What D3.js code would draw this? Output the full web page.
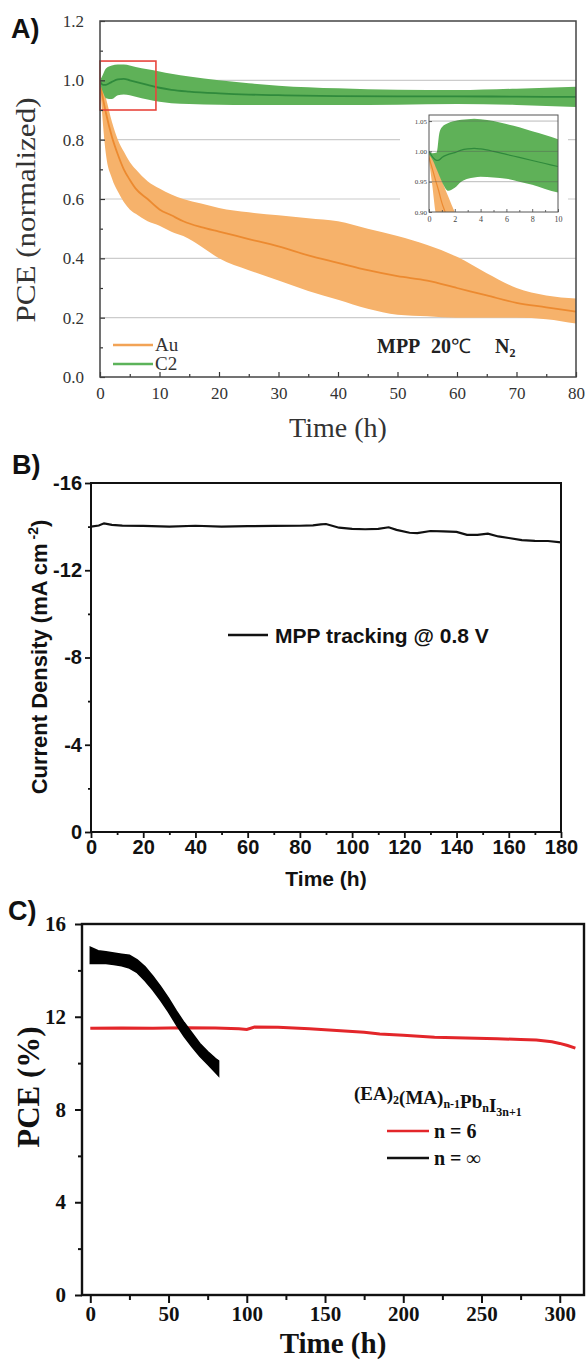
<!DOCTYPE html>
<html>
<head>
<meta charset="utf-8">
<script src="https://d3js.org/d3.v7.min.js"></script>
<style>
  body { margin: 0; background: #fff; }
</style>
</head>
<body>
<svg id="fig" width="587" height="1361"></svg>
<script>
(function() {
  'use strict';

  // ---- A) normalized PCE, Au vs C2 (mean with spread) ----
  const auTime = [0, 1, 2, 3, 4, 5, 6, 8, 10, 12, 14, 17, 20, 25, 30, 35, 40, 45, 50, 55, 60, 65, 70, 75, 80];
  const auMean = [0.99, 0.89, 0.81, 0.75, 0.70, 0.665, 0.635, 0.60, 0.565, 0.545, 0.525, 0.505, 0.49, 0.465, 0.44, 0.41, 0.385, 0.36, 0.34, 0.325, 0.30, 0.275, 0.25, 0.235, 0.22];
  const auUpper = [1.0, 0.94, 0.86, 0.80, 0.76, 0.725, 0.70, 0.66, 0.635, 0.615, 0.60, 0.585, 0.57, 0.555, 0.545, 0.535, 0.525, 0.50, 0.475, 0.445, 0.405, 0.35, 0.30, 0.275, 0.265];
  const auLower = [0.985, 0.75, 0.67, 0.625, 0.59, 0.565, 0.55, 0.525, 0.51, 0.49, 0.475, 0.44, 0.40, 0.36, 0.325, 0.29, 0.26, 0.23, 0.21, 0.205, 0.20, 0.20, 0.20, 0.195, 0.18];

  const c2Time = [0, 0.5, 1, 2, 3, 4, 5, 6, 8, 10, 12, 15, 20, 25, 30, 40, 50, 60, 70, 80];
  const c2Mean = [0.995, 0.985, 0.985, 0.995, 1.003, 1.005, 1.0, 0.995, 0.985, 0.975, 0.968, 0.962, 0.956, 0.952, 0.95, 0.947, 0.946, 0.946, 0.945, 0.944];
  const c2Upper = [1.0, 1.02, 1.04, 1.05, 1.053, 1.053, 1.05, 1.045, 1.037, 1.03, 1.022, 1.013, 1.0, 0.99, 0.982, 0.973, 0.968, 0.967, 0.972, 0.978];
  const c2Lower = [0.99, 0.96, 0.94, 0.937, 0.95, 0.952, 0.95, 0.945, 0.935, 0.928, 0.923, 0.92, 0.918, 0.917, 0.917, 0.917, 0.918, 0.92, 0.917, 0.91];

  // inset: first 10 h
  const insC2Time = [0, 0.3, 0.6, 0.8, 1, 1.5, 2, 2.5, 3, 3.5, 4, 5, 6, 7, 8, 9, 10];
  const insC2Mean = [1.0, 0.99, 0.985, 0.986, 0.99, 0.995, 0.998, 1.002, 1.004, 1.005, 1.004, 1.0, 0.995, 0.99, 0.985, 0.98, 0.975];
  const insC2Upper = [1.0, 0.997, 0.998, 1.03, 1.04, 1.047, 1.05, 1.052, 1.053, 1.054, 1.053, 1.05, 1.045, 1.04, 1.033, 1.027, 1.02];
  const insC2Lower = [0.995, 0.985, 0.97, 0.96, 0.95, 0.935, 0.94, 0.95, 0.955, 0.957, 0.958, 0.957, 0.955, 0.95, 0.945, 0.938, 0.932];
  const insAuTime = [0, 0.25, 0.5, 0.75, 1.0, 1.25, 1.5, 1.75, 2.0, 2.25];
  const insAuMean = [0.99, 0.972, 0.953, 0.935, 0.915, 0.9, 0.885, 0.87, 0.855, 0.84];
  const insAuUpper = [1.0, 0.99, 0.978, 0.965, 0.952, 0.938, 0.925, 0.912, 0.9, 0.887];
  const insAuLower = [0.985, 0.945, 0.9, 0.87, 0.85, 0.83, 0.81, 0.79, 0.77, 0.75];

  const aXTicks = [0, 10, 20, 30, 40, 50, 60, 70, 80];
  const aXMinor = [5, 15, 25, 35, 45, 55, 65, 75];
  const aYTicks = [0, 0.2, 0.4, 0.6, 0.8, 1.0, 1.2];
  const aYMinor = [0.1, 0.3, 0.5, 0.7, 0.9, 1.1];
  const aGrid = [0.2, 0.4, 0.6, 0.8, 1.0];
  const zoomBox = {t0: 0, t1: 9.4, v0: 0.9, v1: 1.065};
  const insXTicks = [0, 2, 4, 6, 8, 10];
  const insXMinor = [1, 3, 5, 7, 9];
  const insYTicks = [0.90, 0.95, 1.00, 1.05];

  // ---- B) current density at MPP ----
  const bTime = [0, 3, 5, 8, 12, 20, 30, 40, 50, 60, 70, 80, 85, 88, 90, 92, 95, 100, 105, 110, 114, 117, 122, 125, 130, 135, 140, 144, 148, 152, 156, 160, 165, 170, 175, 180];
  const bCurrent = [-14.0, -14.05, -14.15, -14.08, -14.05, -14.03, -14.0, -14.04, -14.0, -14.02, -14.03, -14.04, -14.06, -14.1, -14.12, -14.05, -13.95, -13.9, -13.88, -13.9, -13.97, -13.85, -13.72, -13.7, -13.8, -13.78, -13.76, -13.62, -13.62, -13.68, -13.55, -13.48, -13.38, -13.35, -13.34, -13.28];
  const bXTicks = [0, 20, 40, 60, 80, 100, 120, 140, 160, 180];
  const bXMinor = [10, 30, 50, 70, 90, 110, 130, 150, 170];
  const bYTicks = [0, -4, -8, -12, -16];
  const bYMinor = [-2, -6, -10, -14];

  // ---- C) PCE of n = 6 and n = infinity ----
  const redTime = [0, 20, 40, 60, 80, 95, 100, 105, 120, 140, 160, 175, 185, 200, 220, 240, 260, 275, 285, 295, 300, 305, 310];
  const redPce = [11.5, 11.52, 11.5, 11.53, 11.52, 11.48, 11.45, 11.56, 11.55, 11.48, 11.4, 11.33, 11.26, 11.2, 11.12, 11.08, 11.05, 11.02, 11.0, 10.92, 10.85, 10.76, 10.65];
  const blackTime = [0, 5, 10, 15, 20, 25, 30, 35, 40, 45, 50, 55, 60, 65, 70, 75, 80, 82];
  const blackUpper = [15.0, 14.85, 14.8, 14.75, 14.7, 14.65, 14.45, 14.15, 13.75, 13.3, 12.8, 12.25, 11.75, 11.3, 10.85, 10.5, 10.2, 10.1];
  const blackLower = [14.3, 14.3, 14.3, 14.25, 14.2, 14.1, 13.9, 13.55, 13.15, 12.7, 12.2, 11.65, 11.15, 10.7, 10.3, 9.95, 9.6, 9.45];
  const cXTicks = [0, 50, 100, 150, 200, 250, 300];
  const cXMinor = [25, 75, 125, 175, 225, 275];
  const cYTicks = [0, 4, 8, 12, 16];
  const cYMinor = [2, 6, 10, 14];

  const serif = '"Liberation Serif", "Times New Roman", serif';
  const sans = '"Liberation Sans", Arial, sans-serif';

  const orangeBand = '#f6b26b';
  const orangeLine = '#ec8a30';
  const greenBand = '#5fb158';
  const greenLine = '#2f8a3c';

  const svg = d3.select('#fig');
  const defs = svg.append('defs');

  const band = (times, mean, hi, lo) => times.map((t, i) => ({t: t, m: mean[i], hi: hi[i], lo: lo[i]}));

  function styleAxis(font, size, color, width) {
    return (g) => {
      g.select('.domain').remove();
      g.attr('font-family', font).attr('font-size', size);
      g.selectAll('text').attr('fill', color);
      g.selectAll('line').attr('stroke', color).attr('stroke-width', width);
    };
  }

  function clip(id, x, y) {
    defs.append('clipPath').attr('id', id)
        .append('rect')
        .attr('x', x.range()[0])
        .attr('y', y.range()[1])
        .attr('width', x.range()[1] - x.range()[0])
        .attr('height', y.range()[0] - y.range()[1]);
    return 'url(#' + id + ')';
  }

  function drawBand(g, rows, x, y, fill, stroke, w) {
    g.append('path').datum(rows)
        .attr('fill', fill)
        .attr('d', d3.area().x((d) => x(d.t)).y0((d) => y(d.lo)).y1((d) => y(d.hi)).curve(d3.curveMonotoneX));
    g.append('path').datum(rows)
        .attr('fill', 'none')
        .attr('stroke', stroke)
        .attr('stroke-width', w)
        .attr('d', d3.line().x((d) => x(d.t)).y((d) => y(d.m)).curve(d3.curveMonotoneX));
  }

  // =================== Panel A ===================
  const ax = d3.scaleLinear().domain([0, 80]).range([100, 576]);
  const ay = d3.scaleLinear().domain([0, 1.2]).range([377, 21]);
  const gA = svg.append('g');

  gA.selectAll('line.grid')
      .data(aGrid)
      .join('line')
      .attr('class', 'grid')
      .attr('x1', ax.range()[0])
      .attr('x2', ax.range()[1])
      .attr('y1', (d) => ay(d))
      .attr('y2', (d) => ay(d))
      .attr('stroke', '#cccccc')
      .attr('stroke-width', 1.2);

  const dataA = gA.append('g').attr('clip-path', clip('clipA', ax, ay));
  drawBand(dataA, band(auTime, auMean, auUpper, auLower), ax, ay, orangeBand, orangeLine, 1.8);
  drawBand(dataA, band(c2Time, c2Mean, c2Upper, c2Lower), ax, ay, greenBand, greenLine, 1.8);

  gA.append('rect')
      .attr('x', ax(zoomBox.t0))
      .attr('y', ay(zoomBox.v1))
      .attr('width', ax(zoomBox.t1) - ax(zoomBox.t0))
      .attr('height', ay(zoomBox.v0) - ay(zoomBox.v1))
      .attr('fill', 'none')
      .attr('stroke', '#e8453c')
      .attr('stroke-width', 1.6);

  gA.append('g')
      .attr('transform', 'translate(0,' + ay(0) + ')')
      .call(d3.axisBottom(ax).tickValues(aXTicks).tickSize(-5).tickPadding(10).tickFormat(d3.format('d')))
      .call(styleAxis(serif, 17, '#333', 1.2));
  gA.append('g')
      .attr('transform', 'translate(0,' + ay(0) + ')')
      .call(d3.axisBottom(ax).tickValues(aXMinor).tickSize(-3).tickFormat(''))
      .call(styleAxis(serif, 17, '#333', 1.2));
  gA.append('g')
      .attr('transform', 'translate(' + ax(0) + ',0)')
      .call(d3.axisLeft(ay).tickValues(aYTicks).tickSize(-5).tickPadding(16).tickFormat(d3.format('.1f')))
      .call(styleAxis(serif, 17, '#333', 1.2));
  gA.append('g')
      .attr('transform', 'translate(' + ax(0) + ',0)')
      .call(d3.axisLeft(ay).tickValues(aYMinor).tickSize(-3).tickFormat(''))
      .call(styleAxis(serif, 17, '#333', 1.2));

  // inset
  const ix = d3.scaleLinear().domain([0, 10]).range([429, 558]);
  const iy = d3.scaleLinear().domain([0.9, 1.06]).range([212, 115]);
  gA.append('rect')
      .attr('x', ix.range()[0] - 29)
      .attr('y', iy.range()[1] - 6)
      .attr('width', ix.range()[1] - ix.range()[0] + 39)
      .attr('height', iy.range()[0] - iy.range()[1] + 18)
      .attr('fill', '#fff');
  const dataI = gA.append('g').attr('clip-path', clip('clipI', ix, iy));
  drawBand(dataI, band(insAuTime, insAuMean, insAuUpper, insAuLower), ix, iy, orangeBand, orangeLine, 1.2);
  drawBand(dataI, band(insC2Time, insC2Mean, insC2Upper, insC2Lower), ix, iy, greenBand, greenLine, 1.2);
  dataI.selectAll('line.igrid')
      .data([0.95, 1.0, 1.05])
      .join('line')
      .attr('class', 'igrid')
      .attr('x1', ix.range()[0])
      .attr('x2', ix.range()[1])
      .attr('y1', (d) => iy(d))
      .attr('y2', (d) => iy(d))
      .attr('stroke', '#555')
      .attr('stroke-opacity', 0.45)
      .attr('stroke-width', 0.9);
  gA.append('g')
      .attr('transform', 'translate(0,' + iy.range()[0] + ')')
      .call(d3.axisBottom(ix).tickValues(insXTicks).tickSize(-3).tickPadding(4).tickFormat(d3.format('d')))
      .call(styleAxis(serif, 8, '#444', 0.8));
  gA.append('g')
      .attr('transform', 'translate(0,' + iy.range()[0] + ')')
      .call(d3.axisBottom(ix).tickValues(insXMinor).tickSize(-2).tickFormat(''))
      .call(styleAxis(serif, 8, '#444', 0.8));
  gA.append('g')
      .attr('transform', 'translate(' + ix.range()[0] + ',0)')
      .call(d3.axisLeft(iy).tickValues(insYTicks).tickSize(-3).tickPadding(2).tickFormat(d3.format('.2f')))
      .call(styleAxis(serif, 7, '#444', 0.8));
  gA.append('rect')
      .attr('x', ix.range()[0])
      .attr('y', iy.range()[1])
      .attr('width', ix.range()[1] - ix.range()[0])
      .attr('height', iy.range()[0] - iy.range()[1])
      .attr('fill', 'none')
      .attr('stroke', '#555')
      .attr('stroke-width', 1);

  gA.append('rect')
      .attr('x', ax.range()[0])
      .attr('y', ay.range()[1])
      .attr('width', ax.range()[1] - ax.range()[0])
      .attr('height', ay.range()[0] - ay.range()[1])
      .attr('fill', 'none')
      .attr('stroke', '#444')
      .attr('stroke-width', 1.5);

  // legend A
  const legA = [{name: 'Au', color: '#f2a356', y: 345}, {name: 'C2', color: '#5cb35a', y: 364}];
  legA.forEach((d) => {
    gA.append('line')
        .attr('x1', 113).attr('x2', 153)
        .attr('y1', d.y).attr('y2', d.y)
        .attr('stroke', d.color).attr('stroke-width', 2.4);
    gA.append('text')
        .attr('x', 155).attr('y', d.y + 6)
        .attr('font-family', serif).attr('font-size', 19)
        .attr('fill', '#333')
        .text(d.name);
  });

  const cond = gA.append('g').attr('font-family', serif).attr('font-size', 20).attr('fill', '#222');
  cond.append('text').attr('x', 377).attr('y', 353).attr('font-weight', 'bold').text('MPP');
  const t20 = cond.append('text').attr('x', 431).attr('y', 353);
  t20.append('tspan').attr('font-weight', 'bold').text('20');
  t20.append('tspan').text('℃');
  const tn = cond.append('text').attr('x', 495).attr('y', 353).attr('font-weight', 'bold');
  tn.append('tspan').text('N');
  tn.append('tspan').attr('font-size', 12).attr('dy', 4).text('2');

  gA.append('text')
      .attr('transform', 'translate(35,210) rotate(-90)')
      .attr('text-anchor', 'middle')
      .attr('font-family', serif).attr('font-size', 28)
      .attr('fill', '#333')
      .attr('textLength', 225).attr('lengthAdjust', 'spacingAndGlyphs')
      .text('PCE (normalized)');
  gA.append('text')
      .attr('x', (ax.range()[0] + ax.range()[1]) / 2)
      .attr('y', 437)
      .attr('text-anchor', 'middle')
      .attr('font-family', serif).attr('font-size', 28)
      .attr('fill', '#333')
      .text('Time (h)');

  // =================== Panel B ===================
  const bx = d3.scaleLinear().domain([0, 180]).range([91, 561]);
  const by = d3.scaleLinear().domain([0, -16]).range([832, 483]);
  const gB = svg.append('g');
  const rowsB = bTime.map((t, i) => ({t: t, v: bCurrent[i]}));

  gB.append('path').datum(rowsB)
      .attr('fill', 'none')
      .attr('stroke', '#111')
      .attr('stroke-width', 2.2)
      .attr('d', d3.line().x((d) => bx(d.t)).y((d) => by(d.v)));

  gB.append('g')
      .attr('transform', 'translate(0,' + by(0) + ')')
      .call(d3.axisBottom(bx).tickValues(bXTicks).tickSize(6).tickPadding(2).tickFormat((d) => String(d)))
      .call(styleAxis(sans, 20, '#111', 1.8))
      .selectAll('text').attr('font-weight', 'bold');
  gB.append('g')
      .attr('transform', 'translate(0,' + by(0) + ')')
      .call(d3.axisBottom(bx).tickValues(bXMinor).tickSize(3).tickFormat(''))
      .call(styleAxis(sans, 20, '#111', 1.8));
  gB.append('g')
      .attr('transform', 'translate(' + bx(0) + ',0)')
      .call(d3.axisLeft(by).tickValues(bYTicks).tickSize(6).tickPadding(3).tickFormat((d) => String(d)))
      .call(styleAxis(sans, 20, '#111', 1.8))
      .selectAll('text').attr('font-weight', 'bold');
  gB.append('g')
      .attr('transform', 'translate(' + bx(0) + ',0)')
      .call(d3.axisLeft(by).tickValues(bYMinor).tickSize(3).tickFormat(''))
      .call(styleAxis(sans, 20, '#111', 1.8));

  gB.append('rect')
      .attr('x', bx.range()[0])
      .attr('y', by.range()[1])
      .attr('width', bx.range()[1] - bx.range()[0])
      .attr('height', by.range()[0] - by.range()[1])
      .attr('fill', 'none')
      .attr('stroke', '#111')
      .attr('stroke-width', 2);

  gB.append('line')
      .attr('x1', 228).attr('x2', 268)
      .attr('y1', 635).attr('y2', 635)
      .attr('stroke', '#111').attr('stroke-width', 2.4);
  gB.append('text')
      .attr('x', 275).attr('y', 643)
      .attr('font-family', sans).attr('font-size', 21).attr('font-weight', 'bold')
      .attr('fill', '#111')
      .text('MPP tracking @ 0.8 V');

  const bYTitle = gB.append('text')
      .attr('transform', 'translate(47,657) rotate(-90)')
      .attr('text-anchor', 'middle')
      .attr('font-family', sans).attr('font-size', 22).attr('font-weight', 'bold')
      .attr('fill', '#111');
  bYTitle.append('tspan').text('Current Density (mA cm');
  bYTitle.append('tspan').attr('font-size', 14).attr('dy', -9).text(' -2');
  bYTitle.append('tspan').attr('dy', 9).text(')');
  gB.append('text')
      .attr('x', (bx.range()[0] + bx.range()[1]) / 2)
      .attr('y', 886)
      .attr('text-anchor', 'middle')
      .attr('font-family', sans).attr('font-size', 21).attr('font-weight', 'bold')
      .attr('fill', '#111')
      .text('Time (h)');

  // =================== Panel C ===================
  const cx = d3.scaleLinear().domain([-5.3, 315.5]).range([82, 584]);
  const cy = d3.scaleLinear().domain([0, 16]).range([1295, 924]);
  const gC = svg.append('g');

  const rowsRed = redTime.map((t, i) => ({t: t, v: redPce[i]}));
  const rowsBlack = blackTime.map((t, i) => ({t: t, hi: blackUpper[i], lo: blackLower[i]}));

  gC.append('path').datum(rowsRed)
      .attr('fill', 'none')
      .attr('stroke', '#e3262a')
      .attr('stroke-width', 3)
      .attr('d', d3.line().x((d) => cx(d.t)).y((d) => cy(d.v)));
  gC.append('path').datum(rowsBlack)
      .attr('fill', '#000')
      .attr('stroke', '#000')
      .attr('stroke-width', 1.5)
      .attr('d', d3.area().x((d) => cx(d.t)).y0((d) => cy(d.lo)).y1((d) => cy(d.hi)));

  gC.append('g')
      .attr('transform', 'translate(0,' + cy(0) + ')')
      .call(d3.axisBottom(cx).tickValues(cXTicks).tickSize(8).tickPadding(3).tickFormat(d3.format('d')))
      .call(styleAxis(serif, 21, '#111', 2))
      .selectAll('text').attr('font-weight', 'bold');
  gC.append('g')
      .attr('transform', 'translate(0,' + cy(0) + ')')
      .call(d3.axisBottom(cx).tickValues(cXMinor).tickSize(5).tickFormat(''))
      .call(styleAxis(serif, 21, '#111', 2));
  gC.append('g')
      .attr('transform', 'translate(' + cx.range()[0] + ',0)')
      .call(d3.axisLeft(cy).tickValues(cYTicks).tickSize(7).tickPadding(9).tickFormat(d3.format('d')))
      .call(styleAxis(serif, 21, '#111', 2))
      .selectAll('text').attr('font-weight', 'bold');
  gC.append('g')
      .attr('transform', 'translate(' + cx.range()[0] + ',0)')
      .call(d3.axisLeft(cy).tickValues(cYMinor).tickSize(4).tickFormat(''))
      .call(styleAxis(serif, 21, '#111', 2));

  gC.append('rect')
      .attr('x', cx.range()[0])
      .attr('y', cy.range()[1])
      .attr('width', cx.range()[1] - cx.range()[0])
      .attr('height', cy.range()[0] - cy.range()[1])
      .attr('fill', 'none')
      .attr('stroke', '#111')
      .attr('stroke-width', 2.4);

  const formula = gC.append('text')
      .attr('x', 354).attr('y', 1100)
      .attr('font-family', serif).attr('font-size', 19).attr('font-weight', 'bold')
      .attr('fill', '#111');
  [['(EA)', '2'], ['(MA)', 'n-1'], ['Pb', 'n'], ['I', '3n+1']].forEach((p) => {
    formula.append('tspan').text(p[0]);
    formula.append('tspan').attr('font-size', 12).attr('dy', 4).text(p[1]);
    formula.append('tspan').attr('dy', -4).text('');
  });

  const legC = [{name: 'n = 6', color: '#e3262a', y: 1131}, {name: 'n = ∞', color: '#111', y: 1158}];
  legC.forEach((d) => {
    gC.append('line')
        .attr('x1', 387).attr('x2', 429)
        .attr('y1', d.y).attr('y2', d.y)
        .attr('stroke', d.color).attr('stroke-width', 2.4);
    gC.append('text')
        .attr('x', 434).attr('y', d.y + 7)
        .attr('font-family', serif).attr('font-size', 20).attr('font-weight', 'bold')
        .attr('fill', '#111')
        .text(d.name);
  });

  gC.append('text')
      .attr('transform', 'translate(39,1087) rotate(-90)')
      .attr('text-anchor', 'middle')
      .attr('font-family', serif).attr('font-size', 31).attr('font-weight', 'bold')
      .attr('fill', '#111')
      .text('PCE (%)');
  gC.append('text')
      .attr('x', (cx.range()[0] + cx.range()[1]) / 2)
      .attr('y', 1353)
      .attr('text-anchor', 'middle')
      .attr('font-family', serif).attr('font-size', 29).attr('font-weight', 'bold')
      .attr('fill', '#111')
      .text('Time (h)');

  // panel letters
  [['A)', 11, 38], ['B)', 12, 474], ['C)', 8, 920]].forEach((p) => {
    svg.append('text')
        .attr('x', p[1]).attr('y', p[2])
        .attr('font-family', sans).attr('font-size', 27).attr('font-weight', 'bold')
        .attr('fill', '#111')
        .text(p[0]);
  });
})();
</script>
</body>
</html>
